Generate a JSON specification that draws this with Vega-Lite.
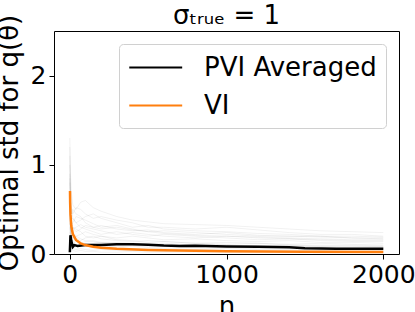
{
  "$schema": "https://vega.github.io/schema/vega-lite/v6.json",
  "width": 345,
  "height": 223,
  "autosize": {"type": "none"},
  "padding": {"left": 54, "top": 31, "right": 16, "bottom": 58},
  "config": {
    "font": "DejaVu Sans",
    "view": {"stroke": "#000000", "strokeWidth": 1},
    "axis": {"domain": false, "grid": false, "tickColor": "#000000", "tickSize": 5, "labelFontSize": 25, "labelColor": "#000000", "titleFontSize": 26, "titleFontWeight": "normal", "titleColor": "#000000", "labelPadding": 3}
  },
  "title": {"text": "σₜᵣᵤₑ = 1", "fontSize": 26, "fontWeight": "normal", "color": "#000000", "offset": -15},
  "datasets": {
    "runs": [
      {"n": 1, "r1": 1.3, "r2": 0.8, "r3": 1.1, "r4": 0.6, "r5": 0.9, "r6": 0.5, "r7": 0.3, "r8": 0.2, "r9": 0.7, "r10": 0.4, "r11": 1.0, "r12": 0.25, "r13": 0.6, "r14": 0.15, "r15": 0.85, "r16": 0.35, "r17": 0.45, "r18": 1.2},
      {"n": 5, "r1": 0.9, "r2": 0.6, "r3": 0.5, "r4": 0.4, "r5": 0.3, "r6": 0.35, "r7": 0.2, "r8": 0.1, "r9": 0.45, "r10": 0.25, "r11": 0.7, "r12": 0.15, "r13": 0.3, "r14": 0.08, "r15": 0.55, "r16": 0.22, "r17": 0.3, "r18": 0.6},
      {"n": 10, "r1": 0.7, "r2": 0.5, "r3": 0.3, "r4": 0.32, "r5": 0.2, "r6": 0.25, "r7": 0.15, "r8": 0.08, "r9": 0.38, "r10": 0.18, "r11": 0.55, "r12": 0.1, "r13": 0.25, "r14": 0.05, "r15": 0.45, "r16": 0.2, "r17": 0.22, "r18": 0.4},
      {"n": 20, "r1": 0.55, "r2": 0.45, "r3": 0.35, "r4": 0.28, "r5": 0.25, "r6": 0.2, "r7": 0.12, "r8": 0.06, "r9": 0.4, "r10": 0.15, "r11": 0.4, "r12": 0.09, "r13": 0.3, "r14": 0.04, "r15": 0.5, "r16": 0.18, "r17": 0.18, "r18": 0.3},
      {"n": 40, "r1": 0.5, "r2": 0.52, "r3": 0.42, "r4": 0.3, "r5": 0.2, "r6": 0.18, "r7": 0.14, "r8": 0.05, "r9": 0.35, "r10": 0.1, "r11": 0.35, "r12": 0.08, "r13": 0.28, "r14": 0.03, "r15": 0.45, "r16": 0.2, "r17": 0.15, "r18": 0.25},
      {"n": 70, "r1": 0.58, "r2": 0.5, "r3": 0.4, "r4": 0.33, "r5": 0.22, "r6": 0.15, "r7": 0.12, "r8": 0.06, "r9": 0.3, "r10": 0.08, "r11": 0.38, "r12": 0.1, "r13": 0.25, "r14": 0.04, "r15": 0.42, "r16": 0.17, "r17": 0.12, "r18": 0.28},
      {"n": 100, "r1": 0.6, "r2": 0.45, "r3": 0.38, "r4": 0.3, "r5": 0.25, "r6": 0.18, "r7": 0.1, "r8": 0.05, "r9": 0.28, "r10": 0.09, "r11": 0.42, "r12": 0.12, "r13": 0.2, "r14": 0.03, "r15": 0.35, "r16": 0.15, "r17": 0.14, "r18": 0.32},
      {"n": 150, "r1": 0.52, "r2": 0.4, "r3": 0.34, "r4": 0.28, "r5": 0.22, "r6": 0.2, "r7": 0.12, "r8": 0.04, "r9": 0.25, "r10": 0.07, "r11": 0.45, "r12": 0.1, "r13": 0.18, "r14": 0.03, "r15": 0.3, "r16": 0.14, "r17": 0.15, "r18": 0.3},
      {"n": 200, "r1": 0.48, "r2": 0.42, "r3": 0.3, "r4": 0.26, "r5": 0.2, "r6": 0.17, "r7": 0.13, "r8": 0.05, "r9": 0.22, "r10": 0.08, "r11": 0.4, "r12": 0.09, "r13": 0.2, "r14": 0.02, "r15": 0.32, "r16": 0.12, "r17": 0.13, "r18": 0.28},
      {"n": 300, "r1": 0.42, "r2": 0.38, "r3": 0.32, "r4": 0.22, "r5": 0.18, "r6": 0.15, "r7": 0.1, "r8": 0.04, "r9": 0.25, "r10": 0.06, "r11": 0.35, "r12": 0.08, "r13": 0.16, "r14": 0.02, "r15": 0.28, "r16": 0.13, "r17": 0.12, "r18": 0.3},
      {"n": 400, "r1": 0.38, "r2": 0.35, "r3": 0.28, "r4": 0.24, "r5": 0.2, "r6": 0.14, "r7": 0.11, "r8": 0.04, "r9": 0.22, "r10": 0.06, "r11": 0.3, "r12": 0.09, "r13": 0.15, "r14": 0.03, "r15": 0.26, "r16": 0.12, "r17": 0.1, "r18": 0.27},
      {"n": 500, "r1": 0.36, "r2": 0.3, "r3": 0.25, "r4": 0.22, "r5": 0.18, "r6": 0.15, "r7": 0.1, "r8": 0.04, "r9": 0.2, "r10": 0.07, "r11": 0.32, "r12": 0.08, "r13": 0.13, "r14": 0.02, "r15": 0.27, "r16": 0.11, "r17": 0.11, "r18": 0.25},
      {"n": 600, "r1": 0.34, "r2": 0.3, "r3": 0.26, "r4": 0.2, "r5": 0.16, "r6": 0.14, "r7": 0.09, "r8": 0.03, "r9": 0.22, "r10": 0.06, "r11": 0.28, "r12": 0.08, "r13": 0.14, "r14": 0.02, "r15": 0.24, "r16": 0.1, "r17": 0.12, "r18": 0.23},
      {"n": 800, "r1": 0.33, "r2": 0.28, "r3": 0.24, "r4": 0.18, "r5": 0.17, "r6": 0.12, "r7": 0.1, "r8": 0.03, "r9": 0.2, "r10": 0.05, "r11": 0.26, "r12": 0.07, "r13": 0.12, "r14": 0.02, "r15": 0.22, "r16": 0.11, "r17": 0.1, "r18": 0.21},
      {"n": 1000, "r1": 0.32, "r2": 0.3, "r3": 0.22, "r4": 0.2, "r5": 0.15, "r6": 0.13, "r7": 0.09, "r8": 0.03, "r9": 0.18, "r10": 0.06, "r11": 0.25, "r12": 0.07, "r13": 0.11, "r14": 0.02, "r15": 0.24, "r16": 0.1, "r17": 0.1, "r18": 0.2},
      {"n": 1200, "r1": 0.3, "r2": 0.27, "r3": 0.2, "r4": 0.18, "r5": 0.14, "r6": 0.12, "r7": 0.08, "r8": 0.03, "r9": 0.16, "r10": 0.05, "r11": 0.23, "r12": 0.06, "r13": 0.12, "r14": 0.02, "r15": 0.21, "r16": 0.09, "r17": 0.09, "r18": 0.19},
      {"n": 1400, "r1": 0.28, "r2": 0.24, "r3": 0.2, "r4": 0.17, "r5": 0.15, "r6": 0.11, "r7": 0.09, "r8": 0.03, "r9": 0.17, "r10": 0.05, "r11": 0.22, "r12": 0.07, "r13": 0.1, "r14": 0.02, "r15": 0.2, "r16": 0.1, "r17": 0.08, "r18": 0.18},
      {"n": 1600, "r1": 0.26, "r2": 0.22, "r3": 0.19, "r4": 0.16, "r5": 0.13, "r6": 0.12, "r7": 0.08, "r8": 0.03, "r9": 0.15, "r10": 0.04, "r11": 0.2, "r12": 0.06, "r13": 0.1, "r14": 0.02, "r15": 0.2, "r16": 0.09, "r17": 0.08, "r18": 0.17},
      {"n": 1800, "r1": 0.25, "r2": 0.22, "r3": 0.18, "r4": 0.15, "r5": 0.13, "r6": 0.11, "r7": 0.08, "r8": 0.02, "r9": 0.14, "r10": 0.05, "r11": 0.2, "r12": 0.06, "r13": 0.1, "r14": 0.02, "r15": 0.18, "r16": 0.09, "r17": 0.07, "r18": 0.16},
      {"n": 2000, "r1": 0.24, "r2": 0.2, "r3": 0.18, "r4": 0.15, "r5": 0.12, "r6": 0.1, "r7": 0.08, "r8": 0.02, "r9": 0.14, "r10": 0.04, "r11": 0.19, "r12": 0.06, "r13": 0.09, "r14": 0.02, "r15": 0.17, "r16": 0.08, "r17": 0.07, "r18": 0.16}
    ],
    "main": [
      {"series": "PVI Averaged", "n": 1, "std": 0.02},
      {"series": "PVI Averaged", "n": 5, "std": 0.21},
      {"series": "PVI Averaged", "n": 10, "std": 0.15},
      {"series": "PVI Averaged", "n": 20, "std": 0.08},
      {"series": "PVI Averaged", "n": 30, "std": 0.1},
      {"series": "PVI Averaged", "n": 50, "std": 0.09},
      {"series": "PVI Averaged", "n": 100, "std": 0.1},
      {"series": "PVI Averaged", "n": 200, "std": 0.1},
      {"series": "PVI Averaged", "n": 300, "std": 0.11},
      {"series": "PVI Averaged", "n": 400, "std": 0.11},
      {"series": "PVI Averaged", "n": 500, "std": 0.105},
      {"series": "PVI Averaged", "n": 600, "std": 0.095},
      {"series": "PVI Averaged", "n": 700, "std": 0.09},
      {"series": "PVI Averaged", "n": 800, "std": 0.092},
      {"series": "PVI Averaged", "n": 1000, "std": 0.085},
      {"series": "PVI Averaged", "n": 1200, "std": 0.08},
      {"series": "PVI Averaged", "n": 1400, "std": 0.075},
      {"series": "PVI Averaged", "n": 1500, "std": 0.065},
      {"series": "PVI Averaged", "n": 1700, "std": 0.06},
      {"series": "PVI Averaged", "n": 2000, "std": 0.058},
      {"series": "VI", "n": 2, "std": 0.707},
      {"series": "VI", "n": 3, "std": 0.577},
      {"series": "VI", "n": 5, "std": 0.447},
      {"series": "VI", "n": 10, "std": 0.316},
      {"series": "VI", "n": 20, "std": 0.224},
      {"series": "VI", "n": 40, "std": 0.158},
      {"series": "VI", "n": 70, "std": 0.12},
      {"series": "VI", "n": 100, "std": 0.1},
      {"series": "VI", "n": 150, "std": 0.082},
      {"series": "VI", "n": 200, "std": 0.071},
      {"series": "VI", "n": 300, "std": 0.058},
      {"series": "VI", "n": 500, "std": 0.045},
      {"series": "VI", "n": 700, "std": 0.038},
      {"series": "VI", "n": 1000, "std": 0.032},
      {"series": "VI", "n": 1500, "std": 0.026},
      {"series": "VI", "n": 2000, "std": 0.022}
    ]
  },
  "encoding": {
    "x": {"field": "n", "type": "quantitative", "scale": {"domain": [-100, 2100], "nice": false, "zero": false}, "axis": {"values": [0, 1000, 2000], "format": "d", "title": "n", "titlePadding": 6}},
    "y": {"field": "std", "type": "quantitative", "scale": {"domain": [0, 2.5], "nice": false}, "axis": {"values": [0, 1, 2], "title": "Optimal std for q(θ)", "titlePadding": 8}}
  },
  "layer": [
    {
      "data": {"name": "runs"},
      "transform": [{"fold": ["r1", "r2", "r3", "r4", "r5", "r6", "r7", "r8", "r9", "r10", "r11", "r12", "r13", "r14", "r15", "r16", "r17", "r18"], "as": ["run", "std"]}],
      "mark": {"type": "line", "color": "#000000", "opacity": 0.07, "strokeWidth": 0.8},
      "encoding": {"detail": {"field": "run", "type": "nominal"}}
    },
    {
      "data": {"name": "main"},
      "mark": {"type": "line", "strokeWidth": 2.5},
      "encoding": {
        "color": {"field": "series", "type": "nominal", "scale": {"domain": ["PVI Averaged", "VI"], "range": ["#000000", "#ff7f0e"]},
          "legend": {"title": null, "orient": "top-right", "offset": 13, "padding": 9, "rowPadding": 10, "labelFontSize": 26, "labelLimit": 400, "labelColor": "#000000", "symbolType": "M-1,0H3", "symbolSize": 700, "symbolStrokeWidth": 2, "labelOffset": 47, "strokeColor": "#d0d0d0", "fillColor": "#ffffff", "cornerRadius": 4}}
      }
    }
  ]
}
